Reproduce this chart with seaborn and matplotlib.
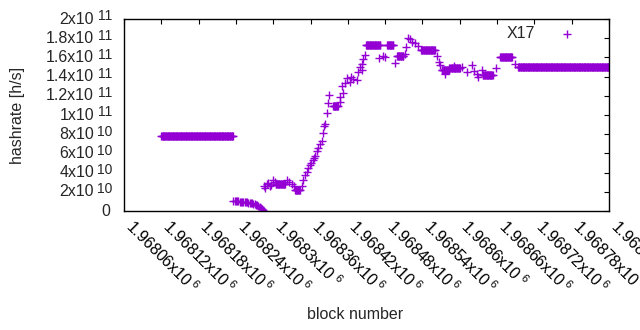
import numpy as np
import pandas as pd
import matplotlib
matplotlib.use("Agg")
import matplotlib.pyplot as plt
import matplotlib.transforms as mtrans
import seaborn as sns

# stretches where the hashrate stays the same for consecutive blocks
run_start = [1968120, 1968304, 1968335, 1968396, 1968449, 1968483, 1968499,
             1968538, 1968571, 1968585, 1968637, 1968665, 1968694]
run_end = [1968235, 1968319, 1968343, 1968404, 1968472, 1968493, 1968509,
           1968560, 1968583, 1968600, 1968653, 1968684, 1968840]
run_value = [7.8e10, 2.85e10, 2.2e10, 1.095e11, 1.73e11, 1.73e11, 1.61e11,
             1.68e11, 1.465e11, 1.49e11, 1.417e11, 1.60e11, 1.505e11]

# single blocks (drop after the first stretch, climb, wiggles)
point_block = [
    1968236, 1968238, 1968240, 1968242, 1968244, 1968246, 1968248, 1968250,
    1968252, 1968254, 1968256, 1968258, 1968260, 1968262, 1968264, 1968266,
    1968268, 1968270, 1968272, 1968274, 1968276, 1968278, 1968280, 1968282,
    1968284,
    1968285, 1968287, 1968290, 1968292, 1968295, 1968297, 1968300, 1968303,
    1968322, 1968325, 1968330, 1968333,
    1968346, 1968348, 1968351, 1968354, 1968356, 1968359, 1968361, 1968364,
    1968365, 1968367, 1968370, 1968372, 1968375, 1968378, 1968380, 1968382,
    1968383, 1968387, 1968388, 1968390,
    1968407, 1968408, 1968411, 1968412, 1968415, 1968419, 1968423, 1968425,
    1968428, 1968434, 1968436, 1968439, 1968442, 1968443, 1968445, 1968448,
    1968470, 1968477, 1968480, 1968496,
    1968512, 1968513, 1968517, 1968520, 1968523, 1968528, 1968533,
    1968563, 1968566, 1968568, 1968576, 1968582, 1968590,
    1968603, 1968611, 1968619, 1968623, 1968627, 1968630, 1968635,
    1968659, 1968689,
]
point_value = [
    1.00e10, 1.00e10, 1.00e10, 0.99e10, 0.99e10, 0.98e10, 0.97e10, 0.96e10,
    0.95e10, 0.93e10, 0.92e10, 0.90e10, 0.88e10, 0.86e10, 0.83e10, 0.80e10,
    0.76e10, 0.72e10, 0.66e10, 0.60e10, 0.52e10, 0.44e10, 0.35e10, 0.25e10,
    0.12e10,
    2.6e10, 2.4e10, 2.8e10, 2.9e10, 2.6e10, 2.75e10, 3.2e10, 3.0e10,
    3.2e10, 3.0e10, 2.85e10, 2.6e10,
    2.6e10, 3.2e10, 3.7e10, 4.1e10, 4.45e10, 4.8e10, 5.0e10, 5.3e10,
    5.55e10, 5.7e10, 6.2e10, 6.6e10, 7.0e10, 7.3e10, 8.1e10, 8.9e10,
    9.1e10, 1.025e11, 1.12e11, 1.21e11,
    1.14e11, 1.19e11, 1.30e11, 1.225e11, 1.33e11, 1.39e11, 1.34e11, 1.40e11,
    1.38e11, 1.365e11, 1.45e11, 1.50e11, 1.47e11, 1.53e11, 1.58e11, 1.625e11,
    1.59e11, 1.61e11, 1.60e11, 1.54e11,
    1.64e11, 1.71e11, 1.80e11, 1.79e11, 1.76e11, 1.75e11, 1.72e11,
    1.615e11, 1.555e11, 1.52e11, 1.43e11, 1.49e11, 1.51e11,
    1.50e11, 1.45e11, 1.52e11, 1.46e11, 1.43e11, 1.40e11, 1.47e11,
    1.49e11, 1.53e11,
]

xticks = [1968060 + 60 * i for i in range(14)]
xtick_labels = ["1.96806x10$^{\\ 6}$", "1.96812x10$^{\\ 6}$", "1.96818x10$^{\\ 6}$",
                "1.96824x10$^{\\ 6}$", "1.9683x10$^{\\ 6}$", "1.96836x10$^{\\ 6}$",
                "1.96842x10$^{\\ 6}$", "1.96848x10$^{\\ 6}$", "1.96854x10$^{\\ 6}$",
                "1.9686x10$^{\\ 6}$", "1.96866x10$^{\\ 6}$", "1.96872x10$^{\\ 6}$",
                "1.96878x10$^{\\ 6}$", "1.96884x10$^{\\ 6}$"]
yticks = [0, 2e10, 4e10, 6e10, 8e10, 1e11, 1.2e11, 1.4e11, 1.6e11, 1.8e11, 2e11]
ytick_base = ["0", "2x10", "4x10", "6x10", "8x10", "1x10", "1.2x10", "1.4x10",
              "1.6x10", "1.8x10", "2x10"]
ytick_exp = ["", "10", "10", "10", "10", "11", "11", "11", "11", "11", "11"]

blocks, values = [], []
for s, e, v in zip(run_start, run_end, run_value):
    r = np.arange(s, e + 1)
    blocks.extend(r)
    values.extend([v] * len(r))
blocks.extend(point_block)
values.extend(point_value)
df = pd.DataFrame({"block": blocks, "hashrate": values})

sns.set_style("white")
plt.rcParams["font.family"] = ["Liberation Sans", "DejaVu Sans"]
plt.rcParams["mathtext.fontset"] = "custom"
plt.rcParams["mathtext.rm"] = "Liberation Sans"
plt.rcParams["mathtext.it"] = "Liberation Sans:italic"
plt.rcParams["mathtext.bf"] = "Liberation Sans:bold"
fs = 11.5

fig = plt.figure(figsize=(6.4, 3.3), dpi=100)
ax = fig.add_axes([124 / 640, 1 - 211 / 330, 485 / 640, 192 / 330])

sns.scatterplot(data=df, x="block", y="hashrate", marker="+", color="#9400d3",
                s=34, linewidth=1.0, label="X17", ax=ax)

ax.set_xlim(1968060, 1968840)
ax.set_ylim(0, 2e11)
ax.set_xticks(xticks)
ax.set_xticklabels(xtick_labels, rotation=-45, ha="left", va="baseline",
                   rotation_mode="anchor", fontsize=fs)
ax.set_yticks(yticks)
ax.set_yticklabels([])
ax.tick_params(direction="in", length=3.5, width=0.8, top=True, right=True,
               colors="black")
ax.tick_params(axis="x", pad=12)
for sp in ax.spines.values():
    sp.set_color("black")
    sp.set_linewidth(1.0)

# y tick labels in gnuplot style: mantissa plus a raised exponent
trans = mtrans.blended_transform_factory(ax.transAxes, ax.transData)
raise_ = mtrans.ScaledTranslation(0, 2.5 / 100, fig.dpi_scale_trans)
for y, base, ex in zip(yticks, ytick_base, ytick_exp):
    if ex:
        ax.text(-30 / 485, y, base, transform=trans, ha="right", va="center",
                fontsize=fs)
        ax.text(-12 / 485, y, ex, transform=trans + raise_, ha="right",
                va="center", fontsize=10)
    else:
        ax.text(-14 / 485, y, base, transform=trans, ha="right", va="center",
                fontsize=fs)

ax.set_xlabel("block number", fontsize=fs)
ax.set_ylabel("hashrate [h/s]", fontsize=fs)
ax.xaxis.set_label_coords(0.476, -0.5)
ax.yaxis.set_label_coords(-0.205, 0.5)

ax.legend(loc="upper right", bbox_to_anchor=(0.946, 0.965), frameon=False,
          markerfirst=False, fontsize=fs, borderpad=0, borderaxespad=0,
          handlelength=2, handletextpad=1.0, markerscale=1.0)

fig.savefig("out.png", dpi=100)
